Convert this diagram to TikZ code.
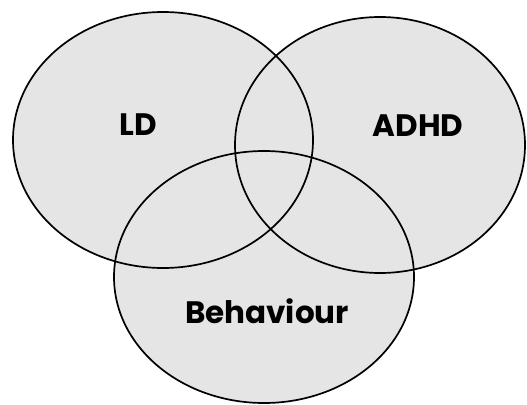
\documentclass[tikz,border=0pt]{standalone}
\usepackage{fontspec}
\setmainfont{Poppins}
\usepackage{xcolor}
\usepackage{tikz}
\usetikzlibrary{positioning}
\definecolor{setfill}{RGB}{229, 229, 229}
\definecolor{setline}{RGB}{0, 0, 0}

\tikzset{
    setarea/.style={fill=setfill},
    setedge/.style={draw=setline, line width=1.7pt},
    setlabel/.style={anchor=base, inner sep=0pt, font=\fontsize{31}{31}\selectfont\bfseries}
}

\begin{document}
\begin{tikzpicture}[x=1pt, y=-1pt]
    \useasboundingbox (0, 0) rectangle (527, 404);

    % Shaded sets (filled first, outlines on top)
    \foreach \cx/\cy/\rx/\ry in {163/140/150/128, 380/145/145/128, 264/277/150/126} {
        \fill[setarea] (\cx, \cy) ellipse [x radius=\rx, y radius=\ry];
    }

    % Set outlines
    \foreach \cx/\cy/\rx/\ry in {163/140/150/128, 380/145/145/128, 264/277/150/126} {
        \draw[setedge] (\cx, \cy) ellipse [x radius=\rx, y radius=\ry];
    }

    % Set names
    \node[setlabel] (ld) at (138, 135) {LD};
    \node[setlabel] (adhd) at (418, 136) {ADHD};
    \node[setlabel] (behaviour) at (267, 323) {Behaviour};

\end{tikzpicture}
\end{document}
